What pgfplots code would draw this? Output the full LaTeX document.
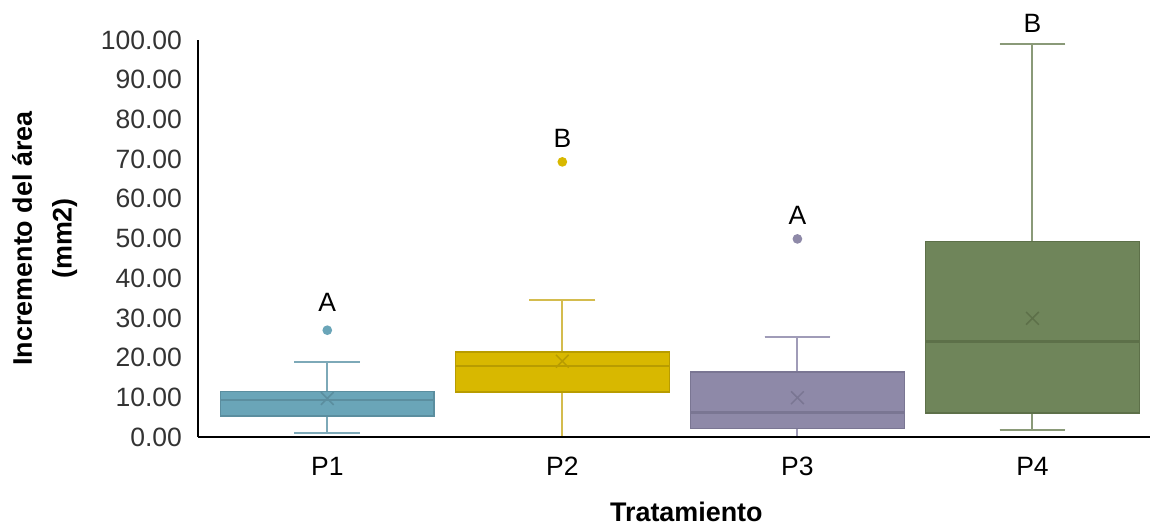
\documentclass[border=0pt]{standalone}
\usepackage{fontspec}
\setmainfont{Liberation Sans}
\usepackage{pgfplots}
\pgfplotsset{compat=1.18}
\usepgfplotslibrary{statistics}
\definecolor{f1}{HTML}{6AA5B8}\definecolor{d1}{HTML}{5B8E9F}\definecolor{w1}{HTML}{7DA9B8}
\definecolor{f2}{HTML}{D8B800}\definecolor{d2}{HTML}{B89C00}\definecolor{w2}{HTML}{D4BC4E}
\definecolor{f3}{HTML}{8E89A8}\definecolor{d3}{HTML}{7A7693}\definecolor{w3}{HTML}{A09CB8}
\definecolor{f4}{HTML}{6F855A}\definecolor{d4}{HTML}{5D7049}\definecolor{w4}{HTML}{8A9A78}
\begin{document}
\begin{tikzpicture}
\path[use as bounding box] (-99bp,-44.5bp) rectangle (483bp,218.5bp);
\begin{axis}[
  at={(0,0)}, anchor=south west,
  scale only axis, width=476bp, height=198.5bp,
  xmin=0.45, xmax=4.5, ymin=0, ymax=100,
  axis x line*=bottom, axis y line*=left,
  axis line style={-, line width=1bp, black},
  axis on top,
  xtick={1,2,3,4}, xticklabels={P1,P2,P3,P4},
  ytick={0,10,...,100},
  major tick length=0pt,
  /pgf/number format/assume math mode=true,
  yticklabel={\pgfmathprintnumber[fixed,fixed zerofill,precision=2]{\tick}},
  tick label style={font=\fontsize{13.3}{15}\selectfont, text=black!80},
  yticklabel style={xshift=-4.5bp},
  xticklabel style={yshift=-6.5bp, text=black},
  xlabel={Tratamiento},
  xlabel style={at={(axis description cs:0.513,0)}, anchor=center, yshift=-37.5bp, font=\bfseries\fontsize{13.5}{16}\selectfont},
  ylabel={Incremento del área\\(mm2)},
  ylabel style={at={(axis description cs:-0.161,0.5)}, anchor=center, align=center, font=\bfseries\fontsize{13.5}{20}\selectfont},
  clip=false,
  boxplot/draw direction=y,
  boxplot/box extend=0.91,
  boxplot/whisker extend=0.28,
  boxplot/every median/.style={line width=1.3bp},
]
\addplot[fill=f1, draw=d1, line width=0.75bp, mark=*, mark size=4.5bp, mark options={fill=f1, draw=f1, scale=0.45},
  boxplot prepared={lower whisker=0.9, lower quartile=5.3, median=9.3, upper quartile=11.4, upper whisker=18.9, average=9.7, draw position=1,
  every whisker/.style={draw=w1, line width=1bp},
  every average/.style={/tikz/mark=x, /tikz/mark options={draw=d1, line width=1bp}}}]
  coordinates {(0,26.9)};
\addplot[fill=f2, draw=d2, line width=0.75bp, mark=*, mark size=4.5bp, mark options={fill=f2, draw=f2, scale=0.45},
  boxplot prepared={lower whisker=0, lower quartile=11.3, median=17.9, upper quartile=21.4, upper whisker=34.5, average=19.1, draw position=2,
  every whisker/.style={draw=w2, line width=1bp},
  every average/.style={/tikz/mark=x, /tikz/mark options={draw=d2, line width=1bp}}}]
  coordinates {(0,69.3)};
\addplot[fill=f3, draw=d3, line width=0.75bp, mark=*, mark size=4.5bp, mark options={fill=f3, draw=f3, scale=0.45},
  boxplot prepared={lower whisker=0, lower quartile=2.2, median=6.1, upper quartile=16.4, upper whisker=25.3, average=9.9, draw position=3,
  every whisker/.style={draw=w3, line width=1bp},
  every average/.style={/tikz/mark=x, /tikz/mark options={draw=d3, line width=1bp}}}]
  coordinates {(0,49.9)};
\addplot[fill=f4, draw=d4, line width=0.75bp, mark=*, mark size=4.5bp, mark options={fill=f4, draw=f4, scale=0.45},
  boxplot prepared={lower whisker=1.8, lower quartile=6.0, median=24.0, upper quartile=49.2, upper whisker=98.9, average=29.9, draw position=4,
  every whisker/.style={draw=w4, line width=1bp},
  every average/.style={/tikz/mark=x, /tikz/mark options={draw=d4, line width=1bp}}}]
  coordinates {};
\node[font=\fontsize{13.3}{15}\selectfont] at (axis cs:1,33.8) {A};
\node[font=\fontsize{13.3}{15}\selectfont] at (axis cs:2,75.1) {B};
\node[font=\fontsize{13.3}{15}\selectfont] at (axis cs:3,55.7) {A};
\node[font=\fontsize{13.3}{15}\selectfont] at (axis cs:4,104.3) {B};
\end{axis}
\end{tikzpicture}
\end{document}
